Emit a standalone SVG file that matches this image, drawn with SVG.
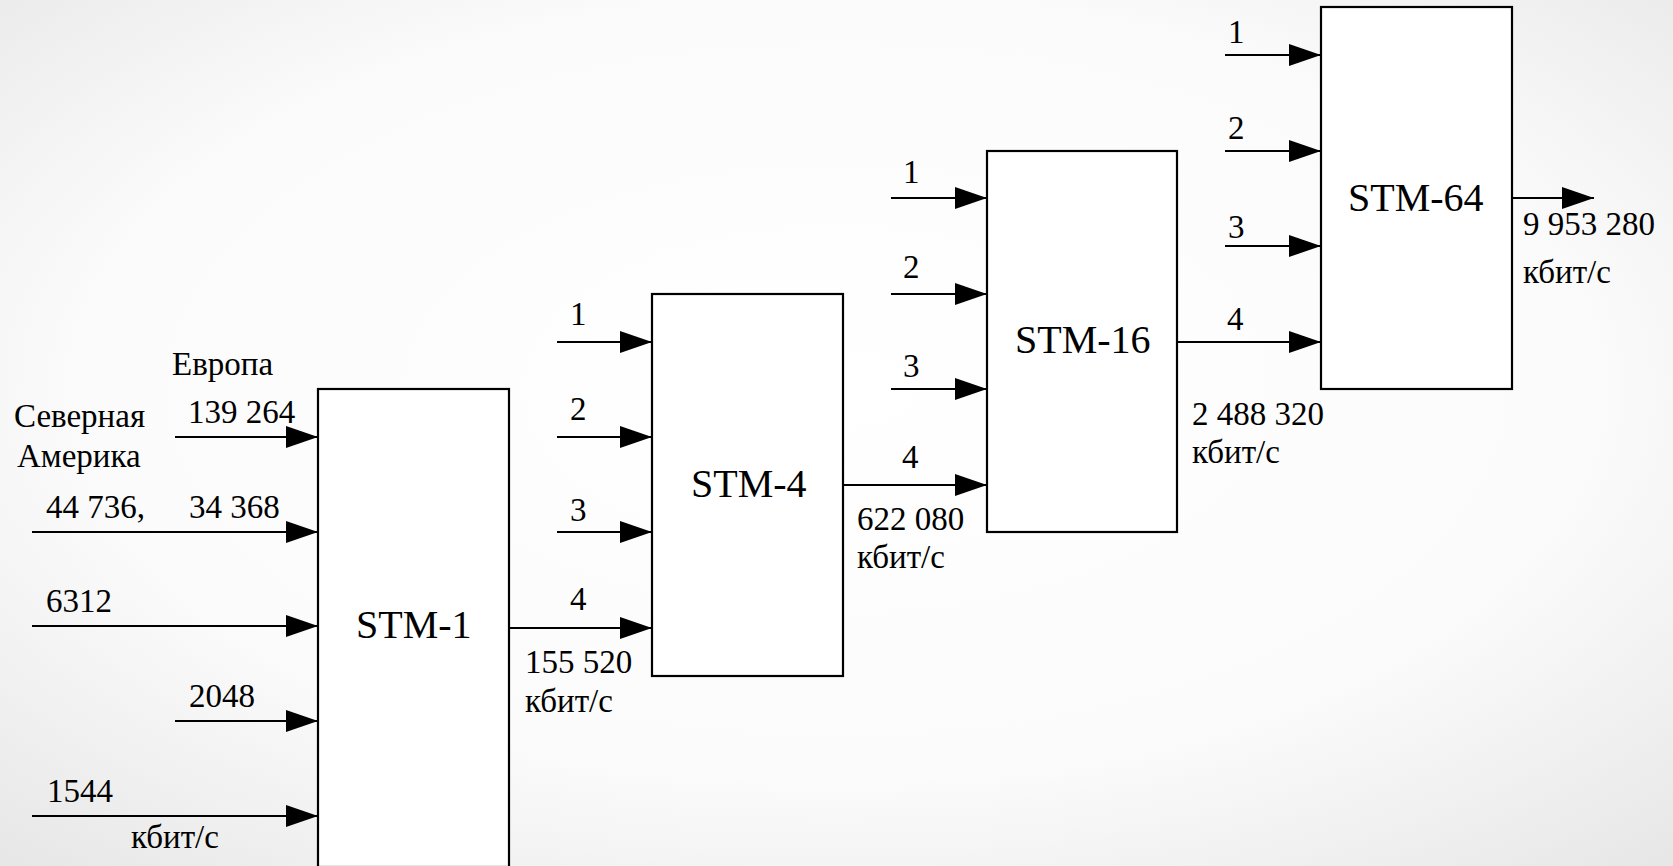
<svg xmlns="http://www.w3.org/2000/svg" width="1673" height="866" viewBox="0 0 1673 866">
<defs>
<radialGradient id="bg" cx="0.5" cy="0.45" r="0.75">
<stop offset="0" stop-color="#ffffff"/>
<stop offset="0.6" stop-color="#fbfbfb"/>
<stop offset="1" stop-color="#e6e6e6"/>
</radialGradient>
<marker id="ah" markerUnits="userSpaceOnUse" markerWidth="32" markerHeight="22" refX="32" refY="11" orient="auto">
<path d="M0,0 L32,11 L0,22 Z" fill="#000"/>
</marker>
<style>
.box{fill:#fff;stroke:#000;stroke-width:2.2}
.ar{stroke:#000;stroke-width:2.2;fill:none;marker-end:url(#ah)}
.f{font-family:"Liberation Serif","Times New Roman",serif;fill:#000}
</style>
</defs>
<rect x="0" y="0" width="1673" height="866" fill="url(#bg)"/>

<g class="f">
<g id="stm1">
<rect class="box" x="318" y="389" width="191" height="478"/>
<text font-size="40" x="356" y="638">STM-1</text>
</g>
<g id="stm4">
<rect class="box" x="652" y="294" width="191" height="382"/>
<text font-size="40" x="691" y="497">STM-4</text>
</g>
<g id="stm16">
<rect class="box" x="987" y="151" width="190" height="381"/>
<text font-size="40" x="1015" y="353">STM-16</text>
</g>
<g id="stm64">
<rect class="box" x="1321" y="7" width="191" height="382"/>
<text font-size="40" x="1348" y="211">STM-64</text>
</g>
</g>

<g id="connectors">
<line class="ar" x1="175" y1="437" x2="318" y2="437"/>
<line class="ar" x1="32" y1="532" x2="318" y2="532"/>
<line class="ar" x1="32" y1="626" x2="318" y2="626"/>
<line class="ar" x1="175" y1="721" x2="318" y2="721"/>
<line class="ar" x1="32" y1="816" x2="318" y2="816"/>

<line class="ar" x1="557" y1="342" x2="652" y2="342"/>
<line class="ar" x1="557" y1="437" x2="652" y2="437"/>
<line class="ar" x1="557" y1="532" x2="652" y2="532"/>
<line class="ar" x1="509" y1="628" x2="652" y2="628"/>

<line class="ar" x1="891" y1="198" x2="987" y2="198"/>
<line class="ar" x1="891" y1="294" x2="987" y2="294"/>
<line class="ar" x1="891" y1="389" x2="987" y2="389"/>
<line class="ar" x1="843" y1="485" x2="987" y2="485"/>

<line class="ar" x1="1225" y1="55" x2="1321" y2="55"/>
<line class="ar" x1="1225" y1="151" x2="1321" y2="151"/>
<line class="ar" x1="1225" y1="246" x2="1321" y2="246"/>
<line class="ar" x1="1177" y1="342" x2="1321" y2="342"/>

<line class="ar" x1="1512" y1="198" x2="1594" y2="198"/>
</g>

<g id="labels" class="f" font-size="33">
<text x="172" y="375">Европа</text>
<text x="188" y="423">139 264</text>
<text x="14" y="427">Северная</text>
<text x="17" y="467">Америка</text>
<text x="46" y="518">44 736,</text>
<text x="189" y="518">34 368</text>
<text x="46" y="612">6312</text>
<text x="189" y="707">2048</text>
<text x="47" y="802">1544</text>
<text x="131" y="848">кбит/с</text>

<text x="570" y="325">1</text>
<text x="570" y="420">2</text>
<text x="570" y="521">3</text>
<text x="570" y="610">4</text>
<text x="525" y="673">155 520</text>
<text x="525" y="712">кбит/с</text>

<text x="903" y="183">1</text>
<text x="903" y="278">2</text>
<text x="903" y="377">3</text>
<text x="902" y="468">4</text>
<text x="857" y="530">622 080</text>
<text x="857" y="568">кбит/с</text>

<text x="1228" y="43">1</text>
<text x="1228" y="139">2</text>
<text x="1228" y="238">3</text>
<text x="1227" y="330">4</text>
<text x="1192" y="425">2 488 320</text>
<text x="1192" y="463">кбит/с</text>

<text x="1523" y="235">9 953 280</text>
<text x="1523" y="283">кбит/с</text>
</g>
</svg>
